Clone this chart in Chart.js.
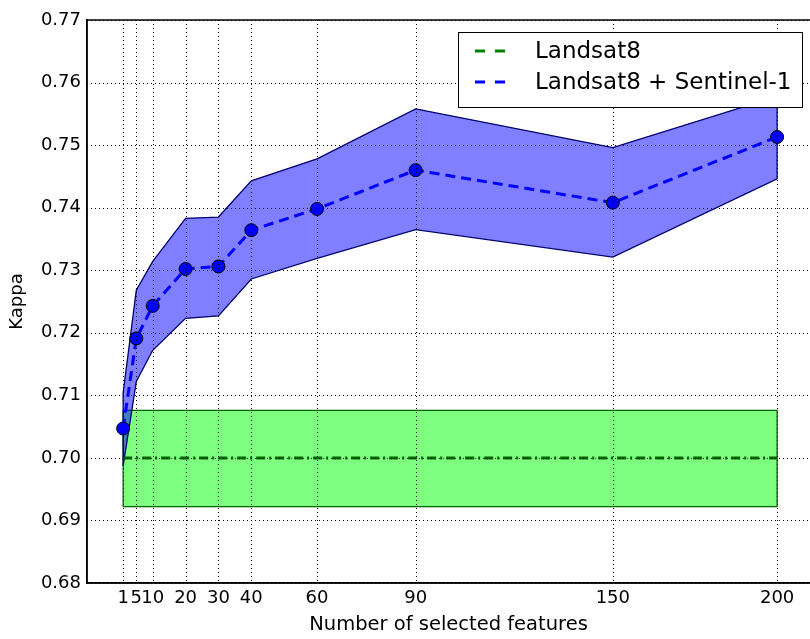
<!DOCTYPE html>
<html><head><meta charset="utf-8">
<script src="https://cdn.jsdelivr.net/npm/chart.js@4.4.1/dist/chart.umd.min.js"></script>
<style>html,body{margin:0;padding:0;background:#fff;} canvas{display:block;}</style>
</head><body>
<canvas id="c" width="810" height="639"></canvas>
<script>
// ---- data ----
const features = [1, 5, 10, 20, 30, 40, 60, 90, 150, 200];
const xTicks = [1, 5, 10, 20, 30, 40, 60, 90, 150, 200];
const yTicks = [0.68, 0.69, 0.70, 0.71, 0.72, 0.73, 0.74, 0.75, 0.76, 0.77];
const s1Mean  = [0.7047, 0.7191, 0.7243, 0.7302, 0.7306, 0.7364, 0.7398, 0.7460, 0.7408, 0.7513];
const s1Upper = [0.7104, 0.7268, 0.7314, 0.7383, 0.7385, 0.7443, 0.7478, 0.7558, 0.7496, 0.7578];
const s1Lower = [0.6987, 0.7122, 0.7172, 0.7223, 0.7227, 0.7286, 0.7319, 0.7365, 0.7321, 0.7446];
const l8X     = [1, 200];
const l8Mean  = [0.700, 0.700];
const l8Upper = [0.7076, 0.7076];
const l8Lower = [0.6922, 0.6922];
const legendLabels = ['Landsat8', 'Landsat8 + Sentinel-1'];
const xTitle = 'Number of selected features';
const yTitle = 'Kappa';

const FONT = "'DejaVu Sans', sans-serif";
Chart.defaults.font.family = FONT;
Chart.defaults.color = '#000';

const pts = (xs, ys) => xs.map((x, i) => ({x: x, y: ys[i]}));
const outline = (xs, up, lo) => {
  const a = pts(xs, up);
  const b = pts(xs, lo).reverse();
  return a.concat(b, [a[0]]);
};

const GREEN = 'rgb(0,128,0)';
const BLUE = 'rgb(0,0,255)';

const gridPlugin = {
  id: 'mplGrid',
  afterDatasetsDraw(chart) {
    const ctx = chart.ctx, a = chart.chartArea;
    const xs = chart.scales.x, ys = chart.scales.y;
    ctx.save();
    ctx.strokeStyle = '#000';
    ctx.lineWidth = 1;
    ctx.setLineDash([1, 3]);
    xTicks.forEach(v => {
      const px = Math.round(xs.getPixelForValue(v)) + 0.5;
      ctx.beginPath(); ctx.moveTo(px, a.top); ctx.lineTo(px, a.bottom); ctx.stroke();
    });
    yTicks.forEach(v => {
      const py = Math.round(ys.getPixelForValue(v)) + 0.5;
      ctx.beginPath(); ctx.moveTo(a.left, py); ctx.lineTo(a.right, py); ctx.stroke();
    });
    ctx.setLineDash([]);
    ctx.lineWidth = 1.5;
    ctx.beginPath();
    ctx.moveTo(a.left, a.top); ctx.lineTo(a.right, a.top);
    ctx.moveTo(a.left, a.top); ctx.lineTo(a.left, a.bottom); ctx.lineTo(a.right, a.bottom);
    ctx.stroke();
    ctx.restore();
  }
};

const legendPlugin = {
  id: 'mplLegend',
  afterDraw(chart) {
    const ctx = chart.ctx;
    ctx.save();
    const bx = 458.5, by = 32.5, bw = 344, bh = 75;
    ctx.fillStyle = '#fff';
    ctx.fillRect(bx, by, bw, bh);
    ctx.strokeStyle = '#000';
    ctx.lineWidth = 1;
    ctx.strokeRect(bx, by, bw, bh);
    const colors = [GREEN, BLUE];
    const ys = [51, 82];
    ctx.font = "23px " + FONT;
    ctx.textBaseline = 'middle';
    ctx.textAlign = 'left';
    legendLabels.forEach((lab, i) => {
      ctx.strokeStyle = colors[i];
      ctx.lineWidth = 3;
      ctx.setLineDash([10, 10]);
      ctx.beginPath(); ctx.moveTo(475, ys[i]); ctx.lineTo(505, ys[i]); ctx.stroke();
      ctx.setLineDash([]);
      ctx.fillStyle = '#000';
      ctx.fillText(lab, 535, ys[i] + 1);
    });
    ctx.restore();
  }
};

new Chart(document.getElementById('c'), {
  type: 'line',
  data: {
    datasets: [
      { // 0 green upper (fill to lower)
        data: pts(l8X, l8Upper), borderWidth: 0, pointRadius: 0,
        backgroundColor: 'rgba(0,255,0,0.5)', fill: 1, order: 10
      },
      { // 1 green lower
        data: pts(l8X, l8Lower), borderWidth: 0, pointRadius: 0, fill: false, order: 9
      },
      { // 2 green outline
        data: outline(l8X, l8Upper, l8Lower), borderColor: 'rgb(0,100,0)', borderWidth: 1.3,
        pointRadius: 0, fill: false, order: 8
      },
      { // 3 blue upper
        data: pts(features, s1Upper), borderWidth: 0, pointRadius: 0,
        backgroundColor: 'rgba(0,0,255,0.5)', fill: 4, order: 7
      },
      { // 4 blue lower
        data: pts(features, s1Lower), borderWidth: 0, pointRadius: 0, fill: false, order: 6
      },
      { // 5 blue outline
        data: outline(features, s1Upper, s1Lower), borderColor: 'rgb(0,0,110)', borderWidth: 1.3,
        pointRadius: 0, fill: false, order: 5
      },
      { // 6 green mean line
        label: legendLabels[0],
        data: pts(l8X, l8Mean), borderColor: 'rgb(0,100,0)', borderWidth: 3,
        borderDash: [9, 4, 2, 4], pointRadius: 0, fill: false, order: 4
      },
      { // 7 blue mean line
        label: legendLabels[1],
        data: pts(features, s1Mean), borderColor: BLUE, borderWidth: 3,
        borderDash: [10, 6], pointRadius: 6.5, pointBackgroundColor: BLUE,
        pointBorderColor: '#000', pointBorderWidth: 1, fill: false, order: 3
      }
    ]
  },
  options: {
    responsive: false,
    animation: false,
    devicePixelRatio: 1,
    layout: { autoPadding: false, padding: { left: 0, right: 0, top: 20, bottom: 0 } },
    plugins: { legend: { display: false }, tooltip: { enabled: false } },
    elements: { line: { tension: 0 } },
    scales: {
      x: {
        type: 'linear', min: -10, max: 210,
        afterBuildTicks: s => { s.ticks = xTicks.map(v => ({value: v})); },
        afterFit: s => { s.height = 56; s.paddingLeft = 0; s.paddingRight = 0; },
        ticks: { autoSkip: false, maxRotation: 0, minRotation: 0, padding: 5,
                 font: { size: 18 }, color: '#000', callback: v => String(v) },
        grid: { display: false, drawTicks: false, tickLength: 0 },
        border: { display: true, color: '#000', width: 1.5 },
        title: { display: true, text: xTitle, font: { size: 19.5 }, color: '#000',
                 padding: { top: 0, bottom: 2 } }
      },
      y: {
        type: 'linear', min: 0.68, max: 0.77,
        afterBuildTicks: s => { s.ticks = yTicks.map(v => ({value: v})); },
        afterFit: s => { s.width = 87; },
        ticks: { padding: 6, font: { size: 18 }, color: '#000', callback: v => v.toFixed(2) },
        grid: { display: false, drawTicks: false, tickLength: 0 },
        border: { display: true, color: '#000', width: 1.5 },
        title: { display: true, text: yTitle, font: { size: 18 }, color: '#000',
                 padding: { top: 7, bottom: 0 } }
      }
    }
  },
  plugins: [gridPlugin, legendPlugin]
});
</script>
</body></html>
